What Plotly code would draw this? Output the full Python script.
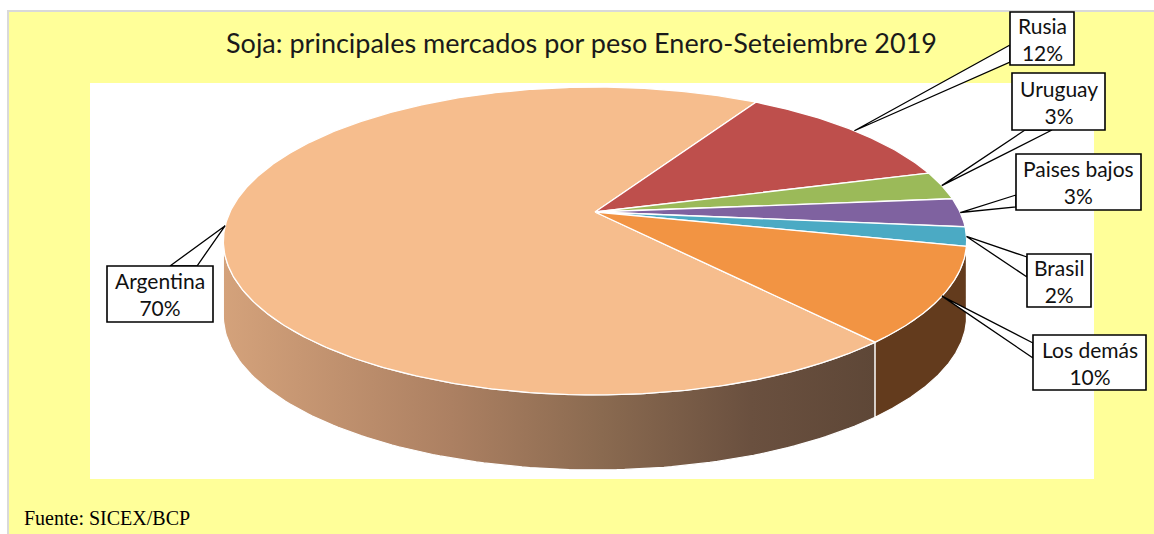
import numpy as np
import plotly.graph_objects as go

# ---------------- data ----------------
categories = ["Argentina", "Rusia", "Uruguay", "Paises bajos", "Brasil", "Los demás"]
shares = [70, 12, 3, 3, 2, 10]
pct_labels = ["70%", "12%", "3%", "3%", "2%", "10%"]

title_text = "Soja: principales mercados por peso Enero-Seteiembre 2019"
source_text = "Fuente: SICEX/BCP"

# ---------------- styles / layout ----------------
top_colors = ["#F6BD8D", "#BE4F4C", "#9BBA59", "#7F62A0", "#4BAAC4", "#F29443"]
side_colors = ["#A07A5C", "#6E2A28", "#556B2C", "#44325C", "#2A6676", "#633B1D"]
argentina_side_scale = [[0.0, "#D4A27B"], [0.35, "#AC8062"], [0.58, "#8A6A50"],
                        [0.81, "#6A503F"], [1.0, "#5E4737"]]

W, H = 1154, 534
CX, CY = 595, 212          # apex of the pie on screen
RA, RB = 365.0, 148.5      # horizontal / vertical radii
KP = 0.1883                # perspective factor
DEPTH = 75                 # thickness of the 3D pie in px
START = -48.8              # angle where the first slice begins (clockwise)

# callout boxes: (x0, y0, x1, y1) and two tail-base points
boxes = {
    "Argentina": ((107, 266, 213, 322), ((170, 266), (197, 266))),
    "Rusia": ((1010, 12, 1074, 65), ((1010, 45), (1010, 62))),
    "Uruguay": ((1012, 73, 1105, 130), ((1025, 130), (1052, 130))),
    "Paises bajos": ((1016, 154, 1141, 210), ((1016, 195), (1016, 207))),
    "Brasil": ((1027, 254, 1091, 307), ((1027, 257), (1027, 277))),
    "Los demás": ((1033, 335, 1146, 390), ((1033, 343), (1033, 358))),
}


def proj(theta_deg, r=1.0):
    t = np.radians(theta_deg)
    u, v = r * np.cos(t), r * np.sin(t)
    d = 1 + KP * v
    return CX + RA * u / d, CY - RB * v / d


fig = go.Figure()

# slice intervals (ccw lo, hi), going clockwise from START
intervals = []
a = START
for s in shares:
    span = 3.6 * s
    intervals.append((a - span, a))
    a -= span

# visible side range
sil = np.degrees(np.arcsin(KP))
vis_lo, vis_hi = 180 + sil, 360 - sil

# ---- sides ----
for i, (lo, hi) in enumerate(intervals):
    for shift in (-720, -360, 0, 360, 720):
        l2, h2 = lo + shift, hi + shift
        L, Hh = max(l2, vis_lo), min(h2, vis_hi)
        if Hh - L > 0.01:
            ts = np.linspace(L, Hh, 120)
            xs, ys = proj(ts)
            px = np.concatenate([xs, xs[::-1], xs[:1]])
            py = np.concatenate([ys, ys[::-1] + DEPTH, ys[:1]])
            kw = dict(x=px, y=py, mode="lines", fill="toself",
                      line=dict(color="white", width=1.2),
                      hoverinfo="skip", showlegend=False, fillcolor=side_colors[i])
            if i == 0:
                kw["fillgradient"] = dict(type="horizontal", colorscale=argentina_side_scale,
                                          start=float(xs.min()), stop=float(xs.max()))
            fig.add_trace(go.Scatter(**kw))

# ---- top face ----
for i, (lo, hi) in enumerate(intervals):
    ts = np.linspace(hi, lo, max(int((hi - lo) * 2), 8))
    xs, ys = proj(ts)
    px = np.concatenate([[CX], xs, [CX]])
    py = np.concatenate([[CY], ys, [CY]])
    fig.add_trace(go.Scatter(x=px, y=py, mode="lines", fill="toself",
                             fillcolor=top_colors[i],
                             line=dict(color="white", width=1.3),
                             hoverinfo="skip", showlegend=False))

# ---- callout tails ----
for i, cat in enumerate(categories):
    lo, hi = intervals[i]
    mid = (lo + hi) / 2
    tx, ty = proj(mid, 1.0)
    (b1, b2) = boxes[cat][1]
    fig.add_trace(go.Scatter(x=[b1[0], float(tx), b2[0], b1[0]],
                             y=[b1[1], float(ty), b2[1], b1[1]],
                             mode="lines", fill="toself", fillcolor="white",
                             line=dict(color="black", width=1.3),
                             hoverinfo="skip", showlegend=False))

shapes = [
    dict(type="rect", x0=0, x1=W, y0=0, y1=10, fillcolor="white", line_width=0, layer="below"),
    dict(type="rect", x0=0, x1=7, y0=0, y1=H, fillcolor="white", line_width=0, layer="below"),
    dict(type="rect", x0=7, x1=W, y0=10, y1=12, fillcolor="#D9D9D9", line_width=0, layer="below"),
    dict(type="rect", x0=7, x1=9, y0=10, y1=H, fillcolor="#D9D9D9", line_width=0, layer="below"),
    dict(type="rect", x0=90, x1=1094, y0=83, y1=479, fillcolor="white", line_width=0, layer="below"),
]
annotations = [
    dict(x=581, y=42, text=title_text, showarrow=False, xanchor="center", yanchor="middle",
         font=dict(family="Lato", size=27, color="#1A1A1A")),
    dict(x=22, y=518, text=source_text, showarrow=False, xanchor="left", yanchor="middle",
         font=dict(family="Liberation Serif", size=20, color="black")),
]
for i, cat in enumerate(categories):
    (x0, y0, x1, y1), _ = boxes[cat]
    shapes.append(dict(type="rect", x0=x0, x1=x1, y0=y0, y1=y1, fillcolor="white",
                       line=dict(color="black", width=1.6), layer="above"))
    annotations.append(dict(x=(x0 + x1) / 2, y=(y0 + y1) / 2,
                            text=f"{cat}<br>{pct_labels[i]}", showarrow=False,
                            xanchor="center", yanchor="middle",
                            font=dict(family="Lato", size=21, color="#111111")))

fig.update_layout(
    width=W, height=H, margin=dict(l=0, r=0, t=0, b=0),
    paper_bgcolor="#FFFF99", plot_bgcolor="rgba(0,0,0,0)",
    xaxis=dict(range=[0, W], visible=False, fixedrange=True),
    yaxis=dict(range=[H, 0], visible=False, fixedrange=True),
    shapes=shapes, annotations=annotations, showlegend=False,
)

fig.write_html("out.html", config={"displayModeBar": False},
               post_script="document.body.style.margin='0px';")
